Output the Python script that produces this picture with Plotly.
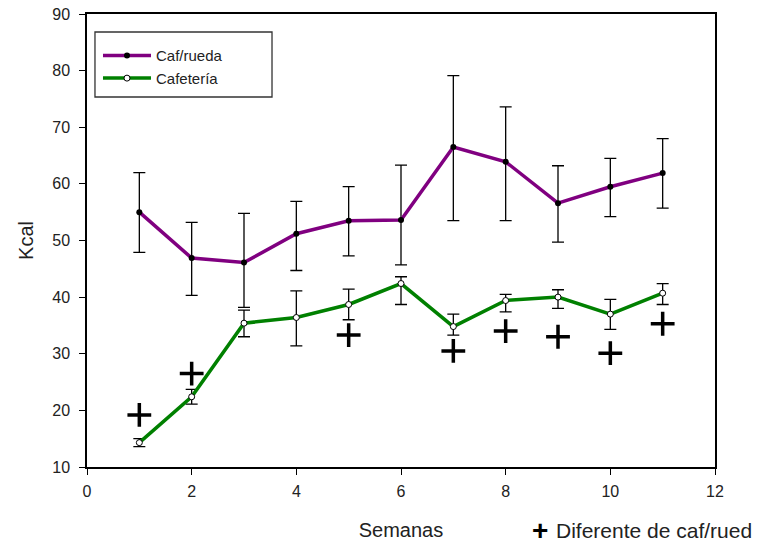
import plotly.graph_objects as go

# Weekly intake (Kcal) per group: mean with upper / lower error extents
semanas = [1, 2, 3, 4, 5, 6, 7, 8, 9, 10, 11]

caf_rueda = [55.0, 46.9, 46.1, 51.2, 53.5, 53.6, 66.5, 63.9, 56.6, 59.5, 61.9]
caf_rueda_up = [7.0, 6.3, 8.7, 5.7, 6.0, 9.7, 12.6, 9.7, 6.6, 5.0, 6.1]
caf_rueda_down = [7.1, 6.6, 7.9, 6.5, 6.2, 7.9, 13.0, 10.4, 6.9, 5.3, 6.2]

cafeteria = [14.3, 22.4, 35.4, 36.4, 38.7, 42.4, 34.8, 39.4, 40.0, 37.0, 40.7]
cafeteria_up = [0.7, 1.3, 2.3, 4.7, 2.7, 1.2, 2.2, 1.1, 1.3, 2.6, 1.7]
cafeteria_down = [0.7, 1.3, 2.4, 5.0, 2.7, 3.7, 1.5, 2.0, 2.0, 2.7, 2.0]

# Weeks where cafetería differs from caf/rueda, and the marker height
dif_semanas = [1, 2, 5, 7, 8, 9, 10, 11]
dif_y = [19.2, 26.5, 33.3, 30.5, 34.0, 33.0, 30.1, 35.3]

FONT = "Liberation Sans, Arial, sans-serif"

fig = go.Figure()

fig.add_trace(go.Scatter(
    x=semanas, y=caf_rueda, name="Caf/rueda", mode="lines+markers",
    line=dict(color="#800080", width=3.5),
    marker=dict(color="black", size=6, symbol="circle"),
    error_y=dict(type="data", symmetric=False, array=caf_rueda_up, arrayminus=caf_rueda_down,
                 color="black", thickness=1.3, width=6),
))

fig.add_trace(go.Scatter(
    x=semanas, y=cafeteria, name="Cafetería", mode="lines+markers",
    line=dict(color="#008000", width=3.5),
    marker=dict(color="white", size=6, symbol="circle", line=dict(color="black", width=1)),
    error_y=dict(type="data", symmetric=False, array=cafeteria_up, arrayminus=cafeteria_down,
                 color="black", thickness=1.3, width=6),
))

fig.add_trace(go.Scatter(
    x=dif_semanas, y=dif_y, mode="markers", showlegend=False,
    marker=dict(symbol="cross-thin", size=17, line=dict(color="black", width=3.5)),
))

tick_font = dict(family=FONT, size=16, color="#222222")
title_font = dict(family=FONT, size=20, color="#222222")

fig.update_xaxes(
    range=[0, 12], tick0=0, dtick=2, ticks="outside", ticklen=6, tickwidth=1.3,
    tickcolor="black", showline=True, linecolor="black", linewidth=1.5, mirror=True,
    showgrid=False, zeroline=False, tickfont=tick_font, ticklabelstandoff=3,
    automargin=False,
    title=dict(text="Semanas", font=title_font, standoff=24),
)
fig.update_yaxes(
    range=[10, 90], tick0=10, dtick=10, ticks="outside", ticklen=6, tickwidth=1.3,
    tickcolor="black", showline=True, linecolor="black", linewidth=1.5, mirror=True,
    showgrid=False, zeroline=False, tickfont=tick_font, ticklabelstandoff=6,
    automargin=False,
    title=dict(text="Kcal", font=title_font, standoff=13),
)

# Box around the series legend
fig.add_shape(
    type="rect", xref="paper", yref="paper",
    x0=0.0127, x1=0.2946, y0=0.8168, y1=0.9603,
    line=dict(color="#333333", width=1.3), fillcolor="white", layer="above",
)

# Key for the "+" marks below the plot
fig.add_annotation(
    xref="paper", yref="paper", x=0.7213, y=-0.141, xanchor="center", yanchor="middle",
    text="<b>+</b>", showarrow=False,
    font=dict(family=FONT, size=28, color="black"),
)
fig.add_annotation(
    xref="paper", yref="paper", x=0.744, y=-0.141, xanchor="left", yanchor="middle",
    text="Diferente de caf/rued", showarrow=False,
    font=dict(family=FONT, size=21, color="#222222"),
)

fig.update_layout(
    width=761, height=547,
    margin=dict(l=87, r=46, t=14, b=80),
    plot_bgcolor="white", paper_bgcolor="white",
    legend=dict(
        x=0.0175, y=0.944, xanchor="left", yanchor="top",
        borderwidth=0, bgcolor="rgba(0,0,0,0)",
        font=dict(family=FONT, size=15, color="#222222"),
        itemwidth=48, tracegroupgap=0,
    ),
)

fig.write_html("out.html")
